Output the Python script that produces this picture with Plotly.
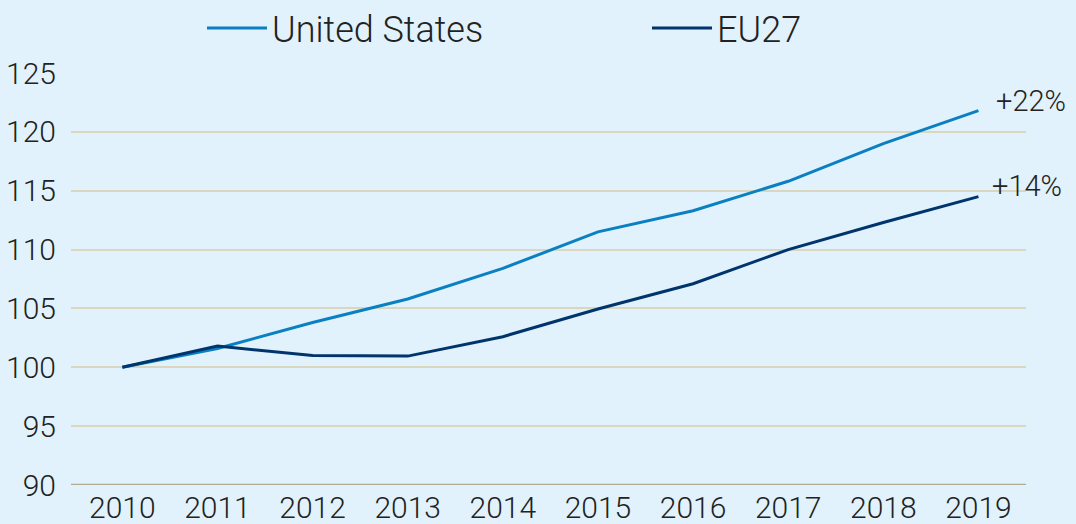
import plotly.graph_objects as go

years = [2010, 2011, 2012, 2013, 2014, 2015, 2016, 2017, 2018, 2019]
us_values = [100.0, 101.6, 103.8, 105.8, 108.4, 111.5, 113.3, 115.8, 119.0, 121.8]
eu_values = [100.0, 101.8, 101.0, 100.95, 102.6, 104.95, 107.1, 110.0, 112.3, 114.5]
y_ticks = [90, 95, 100, 105, 110, 115, 120, 125]
end_labels = ["+22%", "+14%"]

US_COLOR = "#0a80c2"
EU_COLOR = "#00346c"
BG = "#e1f2fc"
FONT = "Roboto"
TXT = "#222222"

fig = go.Figure()
fig.add_trace(go.Scatter(x=years, y=us_values, mode="lines", name="United States",
                         line=dict(color=US_COLOR, width=3)))
fig.add_trace(go.Scatter(x=years, y=eu_values, mode="lines", name="EU27",
                         line=dict(color=EU_COLOR, width=3)))

fig.add_annotation(x=years[-1], y=us_values[-1], text=end_labels[0], showarrow=False,
                   xanchor="left", yanchor="middle", xshift=16, yshift=10,
                   font=dict(family=FONT, size=29, color=TXT, weight=300))
fig.add_annotation(x=years[-1], y=eu_values[-1], text=end_labels[1], showarrow=False,
                   xanchor="left", yanchor="middle", xshift=12, yshift=11,
                   font=dict(family=FONT, size=29, color=TXT, weight=300))

fig.update_layout(
    width=1076, height=524,
    paper_bgcolor=BG, plot_bgcolor=BG,
    margin=dict(l=71, r=50, t=73, b=39, autoexpand=False),
    font=dict(family=FONT, size=30, color=TXT, weight=300),
    showlegend=True,
    legend=dict(orientation="h", xref="container", x=202 / 1076, xanchor="left",
                yref="container", y=1 - 28 / 524, yanchor="middle",
                itemwidth=60, entrywidth=370, entrywidthmode="pixels",
                font=dict(family=FONT, size=36, color=TXT, weight=300),
                bgcolor="rgba(0,0,0,0)", traceorder="normal"),
    xaxis=dict(range=[2009.46, 2019.5], tickmode="array", tickvals=years,
               ticktext=[str(y) for y in years], showgrid=False, zeroline=False,
               showline=False, ticks="", ticklabelstandoff=2),
    yaxis=dict(range=[90, 125], tickmode="array", tickvals=y_ticks,
               showgrid=True, gridcolor="#d9d7c0", gridwidth=1.5, zeroline=False,
               showline=False, ticks="", ticklabelstandoff=14),
)
fig.add_hline(y=90, line=dict(color="#b3ab93", width=2.5), layer="above")

fig.write_html("out.html", config={"displayModeBar": False},
               post_script="document.body.style.margin='0';document.body.style.overflow='hidden';")
